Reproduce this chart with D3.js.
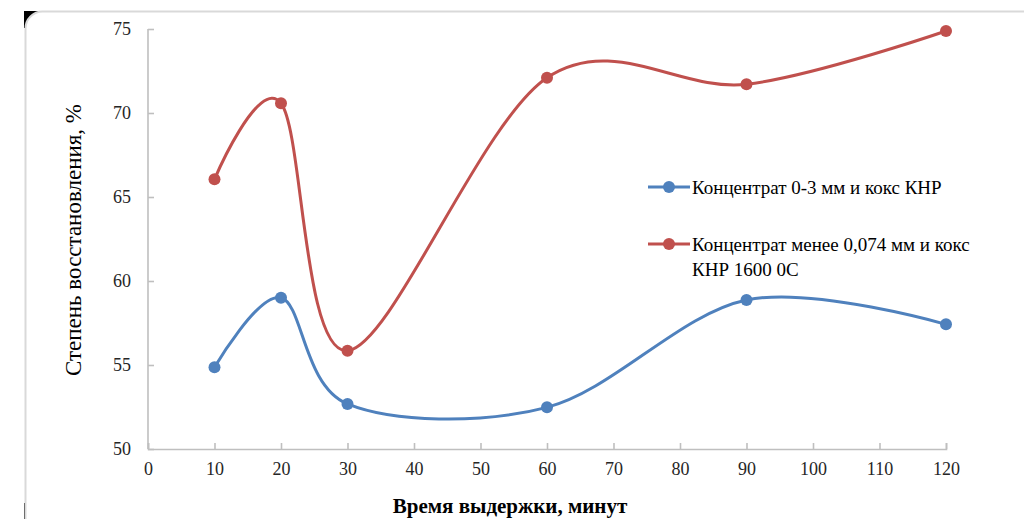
<!DOCTYPE html>
<html><head><meta charset="utf-8">
<script src="https://cdn.jsdelivr.net/npm/d3@7"></script>
<style>body{margin:0;background:#fff}svg{display:block}</style>
</head><body>
<svg id="c" width="1024" height="519"></svg>
<script>
const xValues = [10, 20, 30, 60, 90, 120];
const blueValues = [54.86, 59.0, 52.68, 52.48, 58.87, 57.42];
const redValues = [66.05, 70.58, 55.85, 72.1, 71.71, 74.88];
const seriesNames = ["Концентрат 0-3 мм и кокс КНР", "Концентрат менее 0,074 мм и кокс", "КНР 1600 0С"];
const xTicks = [0,10,20,30,40,50,60,70,80,90,100,110,120];
const yTicks = [50,55,60,65,70,75];
const xTitle = "Время выдержки, минут";
const yTitle = "Степень восстановления, %";

const svg = d3.select("#c");
const font = "'Liberation Serif','Times New Roman',serif";

// frame with odd black corners
svg.append("rect").attr("x",24).attr("y",11).attr("width",16).attr("height",17).attr("fill","#000");
svg.append("rect").attr("x",24).attr("y",503).attr("width",12).attr("height",16).attr("fill","#000");
svg.append("rect").attr("x",25.5).attr("y",11.5).attr("width",1020).attr("height",530)
  .attr("rx",17).attr("fill","#fff").attr("stroke","#d9d9d9").attr("stroke-width",2);

const x = d3.scaleLinear().domain([0,120]).range([148,946]);
const y = d3.scaleLinear().domain([50,75]).range([449,29]);

const axisColor = "#bfbfbf";
const gx = svg.append("g").attr("transform","translate(0,449)")
  .call(d3.axisBottom(x).tickValues(xTicks).tickSizeInner(-6).tickSizeOuter(-6).tickPadding(13));
const gy = svg.append("g").attr("transform","translate(148,0)")
  .call(d3.axisLeft(y).tickValues(yTicks).tickSizeInner(-6).tickSizeOuter(0).tickPadding(17));
[gx,gy].forEach(g=>{
  g.selectAll("path,line").attr("stroke",axisColor).attr("stroke-width",1.6);
  g.selectAll("text").attr("font-family",font).attr("font-size",18).attr("fill","#262626");
});
gy.select(".domain").attr("d","M0,449V29");

// axis titles
svg.append("text").attr("x",510).attr("y",513).attr("text-anchor","middle")
  .attr("font-family",font).attr("font-weight","bold").attr("font-size",21).attr("fill","#000").text(xTitle);
svg.append("text").attr("transform","translate(81,240) rotate(-90)").attr("text-anchor","middle")
  .attr("font-family",font).attr("font-size",23).attr("fill","#000").text(yTitle);

const line = d3.line().x(d=>x(d[0])).y(d=>y(d[1])).curve(d3.curveCatmullRom.alpha(0));
const series = [
  {vals: blueValues, color: "#4F81BD"},
  {vals: redValues, color: "#C0504D"}
];
series.forEach(s=>{
  const pts = xValues.map((v,i)=>[v,s.vals[i]]);
  svg.append("path").attr("d",line(pts)).attr("fill","none").attr("stroke",s.color).attr("stroke-width",3);
  svg.selectAll(null).data(pts).enter().append("circle")
    .attr("cx",d=>x(d[0])).attr("cy",d=>y(d[1])).attr("r",6).attr("fill",s.color);
});

// legend
const leg = [{y:187, color:"#4F81BD", lines:[seriesNames[0]]},{y:244, color:"#C0504D", lines:[seriesNames[1],seriesNames[2]]}];
leg.forEach(l=>{
  svg.append("line").attr("x1",648).attr("x2",690).attr("y1",l.y).attr("y2",l.y).attr("stroke",l.color).attr("stroke-width",3);
  svg.append("circle").attr("cx",669).attr("cy",l.y).attr("r",6).attr("fill",l.color);
  l.lines.forEach((t,i)=>{
    svg.append("text").attr("x",692).attr("y",l.y+7+i*25).attr("font-family",font).attr("font-size",19)
      .attr("fill","#000").text(t);
  });
});
</script>
</body></html>
